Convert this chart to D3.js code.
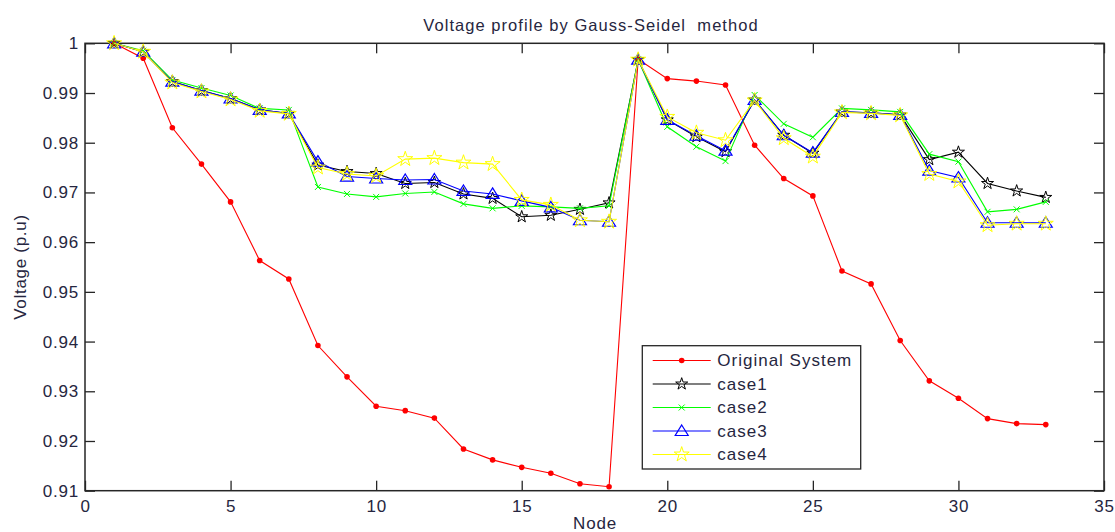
<!DOCTYPE html>
<html>
<head>
<meta charset="utf-8">
<script src="https://cdn.jsdelivr.net/npm/d3@7"></script>
<style>
  body { margin: 0; background: #fff; }
  text { font-family: "Liberation Sans", Arial, sans-serif; }
</style>
</head>
<body>
<div id="chart"></div>
<script>
const nodes = [1, 2, 3, 4, 5, 6, 7, 8, 9, 10, 11, 12, 13, 14, 15, 16, 17,
  18, 19, 20, 21, 22, 23, 24, 25, 26, 27, 28, 29, 30, 31, 32, 33];

const original = [1.0, 0.997, 0.983, 0.9757, 0.9681, 0.9563, 0.9526, 0.9392, 0.9329, 0.927,
  0.9261, 0.9246, 0.9184, 0.9162, 0.9147, 0.9135, 0.9114, 0.9108, 0.9968, 0.9929,
  0.9924, 0.9916, 0.9795, 0.9728, 0.9693, 0.9542, 0.9516, 0.9402, 0.9321, 0.9286,
  0.9245, 0.9235, 0.9233];
const case1 = [1.0, 0.9983, 0.9923, 0.9905, 0.9889, 0.9866, 0.9859, 0.9755, 0.9742, 0.9738,
  0.9718, 0.972, 0.9697, 0.9688, 0.9651, 0.9654, 0.9666, 0.9679, 0.9967, 0.9846,
  0.9812, 0.9782, 0.9886, 0.9815, 0.9779, 0.9862, 0.986, 0.9856, 0.9766, 0.9781,
  0.9718, 0.9703, 0.969];
const case2 = [1.0, 0.9985, 0.9926, 0.991, 0.9895, 0.9869, 0.9866, 0.9711, 0.9697, 0.9691,
  0.9698, 0.9701, 0.9677, 0.9668, 0.9673, 0.9671, 0.9668, 0.9673, 0.9967, 0.9832,
  0.9792, 0.9763, 0.9896, 0.9838, 0.9811, 0.9869, 0.9866, 0.9862, 0.9777, 0.9762,
  0.9661, 0.9666, 0.9681];
const case3 = [1.0, 0.9983, 0.9923, 0.9905, 0.9889, 0.9866, 0.9859, 0.9762, 0.9732, 0.9728,
  0.9725, 0.9726, 0.9703, 0.9697, 0.9683, 0.967, 0.9644, 0.9641, 0.9967, 0.9846,
  0.9814, 0.9784, 0.9886, 0.9815, 0.978, 0.9862, 0.986, 0.9856, 0.9744, 0.973,
  0.9639, 0.9639, 0.9639];
const case4 = [1.0, 0.9983, 0.9921, 0.9903, 0.9887, 0.9864, 0.9858, 0.975, 0.9737, 0.9733,
  0.9767, 0.9769, 0.976, 0.9757, 0.9685, 0.9675, 0.9644, 0.9641, 0.9967, 0.9852,
  0.982, 0.9805, 0.9885, 0.9809, 0.9772, 0.9861, 0.9859, 0.9855, 0.9737, 0.9722,
  0.9634, 0.9637, 0.9637];

const seriesNames = ["Original System", "case1", "case2", "case3", "case4"];
const seriesColors = ["#ff0000", "#000000", "#00ff00", "#0000ff", "#ffff00"];
const seriesMarkers = ["dot", "star", "cross", "triangle", "bigstar"];
const seriesValues = [original, case1, case2, case3, case4];

const xTicks = [0, 5, 10, 15, 20, 25, 30, 35];
const yTicks = [0.91, 0.92, 0.93, 0.94, 0.95, 0.96, 0.97, 0.98, 0.99, 1];

const SIZE = { width: 1115, height: 532 };
const PLOT = { left: 85, right: 1104, top: 43.3, bottom: 490.7 };
const TEXT_COLOR = "#262640";

const svg = d3.select("#chart").append("svg")
    .attr("width", SIZE.width)
    .attr("height", SIZE.height);

const x = d3.scaleLinear().domain([0, 35]).range([PLOT.left, PLOT.right]);
const y = d3.scaleLinear().domain([0.91, 1]).range([PLOT.bottom, PLOT.top]);

function styleAxis(g) {
  g.select(".domain").remove();
  g.selectAll(".tick line").attr("stroke", "#262626").attr("stroke-width", 1.3);
  g.selectAll(".tick text")
      .attr("fill", TEXT_COLOR)
      .style("font-size", "17px")
      .style("letter-spacing", "0.8px")
      .style("font-family", "'Liberation Sans', Arial, sans-serif");
}

svg.append("g")
    .attr("transform", `translate(0,${PLOT.bottom})`)
    .call(d3.axisBottom(x).tickValues(xTicks).tickSizeInner(-10).tickSizeOuter(0).tickPadding(9))
    .call(styleAxis);
svg.append("g")
    .attr("transform", `translate(0,${PLOT.top})`)
    .call(d3.axisTop(x).tickValues(xTicks).tickSizeInner(-10).tickSizeOuter(0).tickFormat(""))
    .call(styleAxis);
svg.append("g")
    .attr("transform", `translate(${PLOT.left},0)`)
    .call(d3.axisLeft(y).tickValues(yTicks).tickSizeInner(-10).tickSizeOuter(0).tickPadding(6)
      .tickFormat(d => String(+d.toFixed(2))))
    .call(styleAxis);
svg.append("g")
    .attr("transform", `translate(${PLOT.right},0)`)
    .call(d3.axisRight(y).tickValues(yTicks).tickSizeInner(-10).tickSizeOuter(0).tickFormat(""))
    .call(styleAxis);

svg.append("rect")
    .attr("x", PLOT.left).attr("y", PLOT.top)
    .attr("width", PLOT.right - PLOT.left).attr("height", PLOT.bottom - PLOT.top)
    .attr("fill", "none").attr("stroke", "#262626").attr("stroke-width", 1.5);

// markers
function drawMarker(g, type, color) {
  if (type === "dot") {
    g.append("circle").attr("r", 2.8).attr("fill", color);
  } else if (type === "star") {
    g.append("path").attr("d", d3.symbol(d3.symbolStar, 45)())
        .attr("fill", "none").attr("stroke", color).attr("stroke-width", 1);
  } else if (type === "bigstar") {
    g.append("path").attr("d", d3.symbol(d3.symbolStar, 70)())
        .attr("fill", "none").attr("stroke", color).attr("stroke-width", 1);
  } else if (type === "cross") {
    g.append("path").attr("d", "M-3,-3L3,3M-3,3L3,-3")
        .attr("fill", "none").attr("stroke", color).attr("stroke-width", 1);
  } else if (type === "triangle") {
    g.append("path").attr("d", "M0,-6L6.5,4.5L-6.5,4.5Z")
        .attr("fill", "none").attr("stroke", color).attr("stroke-width", 1.2);
  }
}

const line = d3.line().x((d, i) => x(nodes[i])).y(d => y(d));

seriesValues.forEach((vals, s) => {
  const g = svg.append("g");
  g.append("path")
      .attr("d", line(vals))
      .attr("fill", "none")
      .attr("stroke", seriesColors[s])
      .attr("stroke-width", 1.1);
  vals.forEach((v, i) => {
    const m = g.append("g").attr("transform", `translate(${x(nodes[i])},${y(v)})`);
    drawMarker(m, seriesMarkers[s], seriesColors[s]);
  });
});

// legend
const legend = svg.append("g");
legend.append("rect")
    .attr("x", 642.3).attr("y", 345.7).attr("width", 218.4).attr("height", 123.3)
    .attr("fill", "#fff").attr("stroke", "#262626").attr("stroke-width", 1.3);
const rowY = d3.scaleLinear().domain([0, 4]).range([360.5, 454.5]);
seriesNames.forEach((name, s) => {
  const ry = rowY(s);
  legend.append("line")
      .attr("x1", 652.7).attr("x2", 710.7).attr("y1", ry).attr("y2", ry)
      .attr("stroke", seriesColors[s]).attr("stroke-width", 1.1);
  drawMarker(legend.append("g").attr("transform", `translate(681.7,${ry})`), seriesMarkers[s], seriesColors[s]);
  legend.append("text")
      .attr("x", 717.3).attr("y", ry).attr("dy", "0.35em")
      .style("font-size", "17px").style("letter-spacing", "1px").attr("fill", TEXT_COLOR)
      .text(name);
});

// titles
svg.append("text")
    .attr("x", 591).attr("y", 31)
    .attr("text-anchor", "middle")
    .style("font-size", "16.5px").style("letter-spacing", "1.05px").attr("fill", TEXT_COLOR)
    .attr("xml:space", "preserve")
    .style("white-space", "pre")
    .text("Voltage profile by Gauss-Seidel  method");
svg.append("text")
    .attr("x", 595).attr("y", 529)
    .attr("text-anchor", "middle")
    .style("font-size", "17px").style("letter-spacing", "0.8px").attr("fill", TEXT_COLOR)
    .text("Node");
svg.append("text")
    .attr("transform", "translate(26,267) rotate(-90)")
    .attr("text-anchor", "middle")
    .style("font-size", "17px").style("letter-spacing", "0.7px").attr("fill", TEXT_COLOR)
    .text("Voltage (p.u)");
</script>
</body>
</html>
